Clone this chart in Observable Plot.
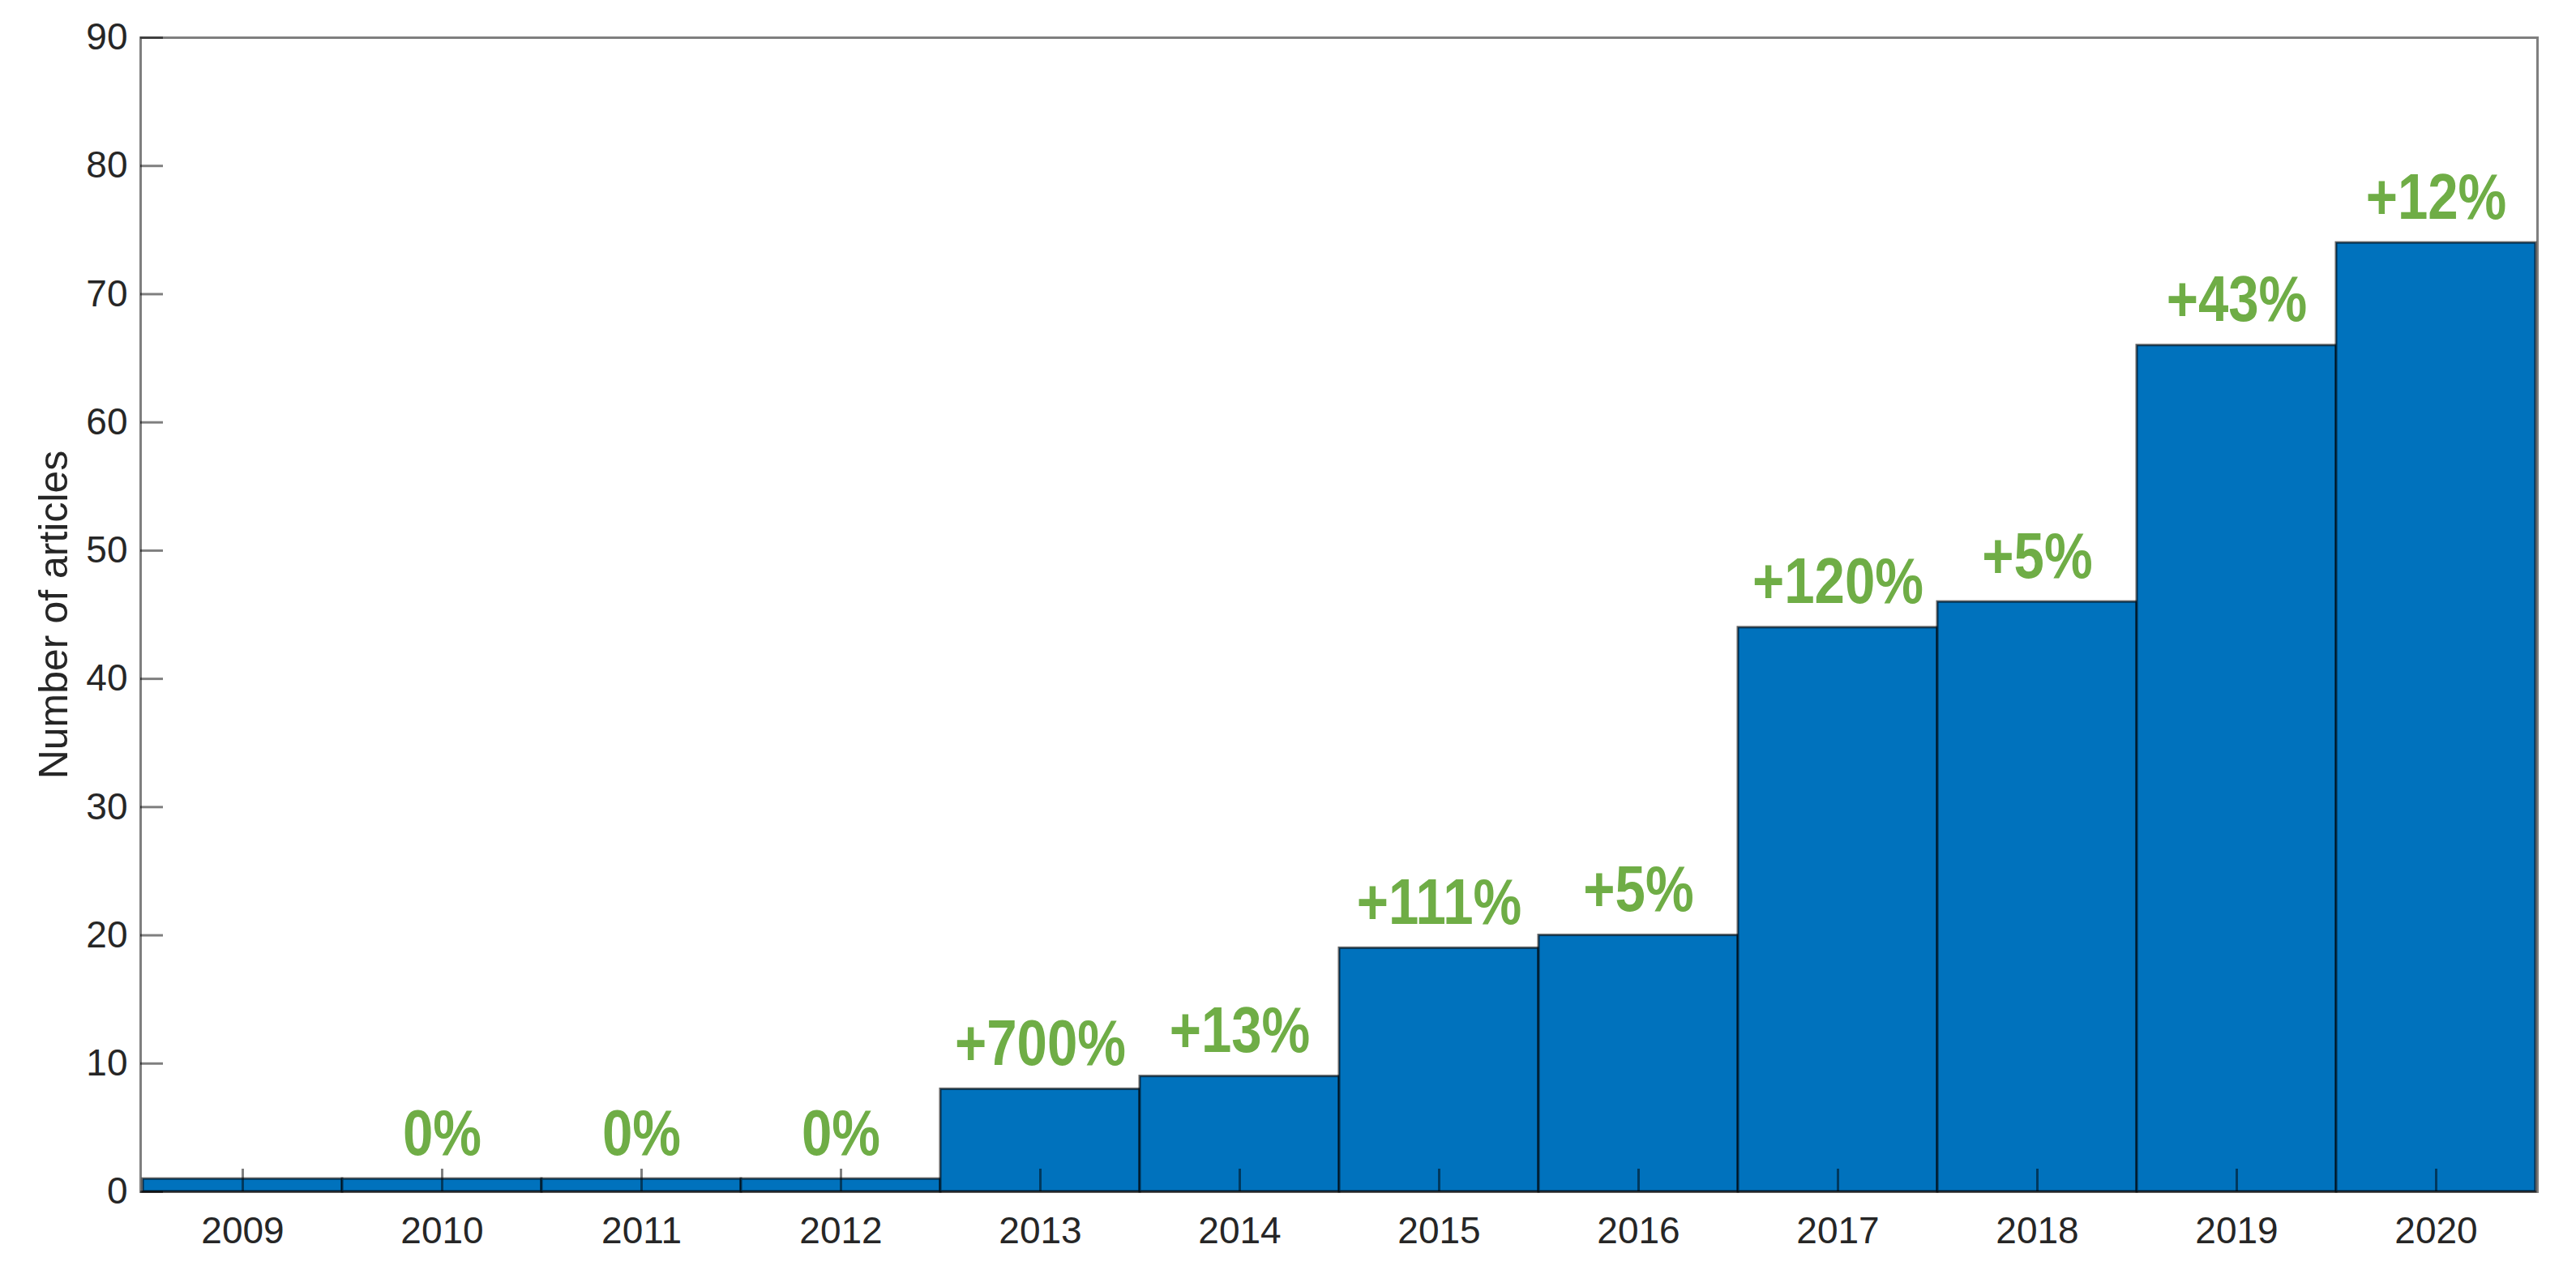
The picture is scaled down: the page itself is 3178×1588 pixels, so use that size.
<!DOCTYPE html>
<html>
<head>
<meta charset="utf-8">
<script src="https://cdn.jsdelivr.net/npm/d3@7"></script>
<script src="https://cdn.jsdelivr.net/npm/@observablehq/plot@0.6"></script>
<style>
  html, body { margin: 0; padding: 0; background: #fff; overflow: hidden; }
  #chart svg { display: block; }
</style>
</head>
<body>
<div id="chart"></div>
<script>
// Data
const years = [2009, 2010, 2011, 2012, 2013, 2014, 2015, 2016, 2017, 2018, 2019, 2020];
const articles = [1, 1, 1, 1, 8, 9, 19, 20, 44, 46, 66, 74];
const growthLabels = ["", "0%", "0%", "0%", "+700%", "+13%", "+111%", "+5%", "+120%", "+5%", "+43%", "+12%"];
const yTicks = [0, 10, 20, 30, 40, 50, 60, 70, 80, 90];
const yLabel = "Number of articles";

const table = years.map((year, i) => ({ year, articles: articles[i], growth: growthLabels[i] }));

const axisStyle = {
  stroke: "#000",
  strokeOpacity: 0.5,
  strokeWidth: 3,
  fill: "#262626",
  fontSize: 46
};

const chart = Plot.plot({
  width: 3178,
  height: 1588,
  marginLeft: 173,
  marginRight: 48,
  marginTop: 46,
  marginBottom: 118,
  style: { fontFamily: "'Liberation Sans', Arial, sans-serif", background: "#fff", color: "#262626" },
  x: { type: "band", domain: years, padding: 0 },
  y: { domain: [0, 90] },
  marks: [
    Plot.barY(table, {
      x: "year", y: "articles",
      fill: "#0072BD", stroke: "#000", strokeOpacity: 0.6, strokeWidth: 3
    }),
    Plot.text(table.filter(d => d.growth !== ""), {
      x: "year", y: "articles", text: "growth",
      dy: -30, lineAnchor: "bottom",
      fill: "#6FAD46", fontSize: 80, fontWeight: "bold",
      fontFamily: "'Liberation Sans', Arial, sans-serif"
    }),
    Plot.frame({ stroke: "#000", strokeOpacity: 0.5, strokeWidth: 3 }),
    Plot.axisX({
      ticks: years, tickSize: -28, tickPadding: 59,
      tickFormat: d => String(d), label: null, ...axisStyle
    }),
    Plot.axisY({
      ticks: yTicks, tickSize: -28, tickPadding: 44,
      label: null, ...axisStyle
    }),
    Plot.axisY({
      ticks: [], label: yLabel, labelAnchor: "center", labelOffset: 126, labelArrow: "none",
      fill: "#262626", fontSize: 50
    })
  ]
});

// The reference's percentage labels use a condensed bold face: narrow the glyphs horizontally.
d3.select(chart).selectAll("g[aria-label='text'] text").each(function () {
  const t = this.getAttribute("transform") || "";
  this.setAttribute("transform", t + " scale(0.84,1)");
});

document.getElementById("chart").appendChild(chart);
</script>
</body>
</html>
